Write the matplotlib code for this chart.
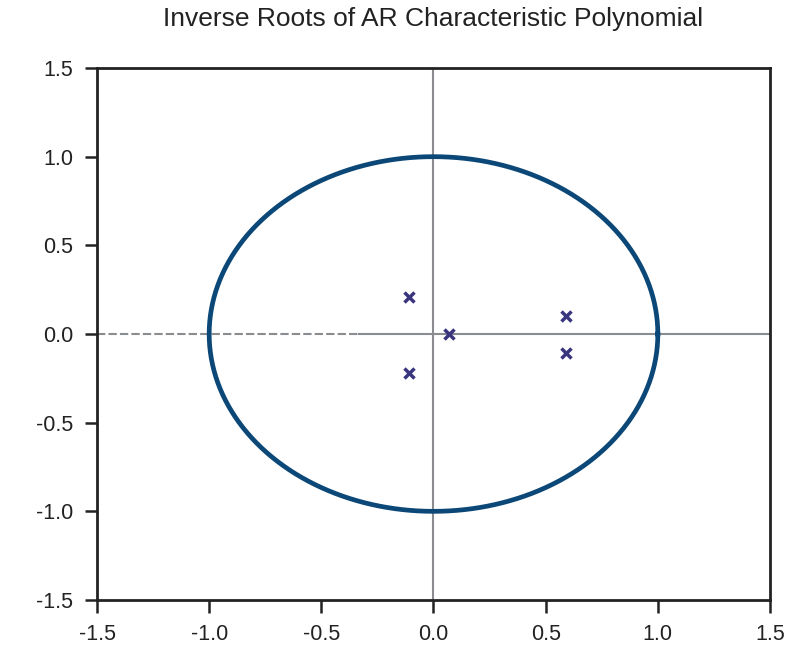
import numpy as np
import matplotlib
matplotlib.use("Agg")
from matplotlib import pyplot as plt

root_re = [-0.11, -0.11, 0.07, 0.59, 0.59]
root_im = [0.21, -0.22, 0.0, 0.10, -0.105]

ticks = [-1.5, -1.0, -0.5, 0.0, 0.5, 1.0, 1.5]
tick_labels = ["-1.5", "-1.0", "-0.5", "0.0", "0.5", "1.0", "1.5"]
title = "Inverse Roots of AR Characteristic Polynomial"

plt.rcParams['font.family'] = ['Liberation Sans', 'DejaVu Sans']

fig = plt.figure(figsize=(8.12, 6.5), dpi=100)
ax = fig.add_axes([97/812, 1-600/650, 673/812, 532/650])

# unit circle
t = np.linspace(0, 2*np.pi, 361)
ax.plot(np.cos(t), np.sin(t), color="#0b4777", lw=3.4, zorder=3)

# zero lines: dashed part left, solid for the rest
ax.plot([-1.5, -0.33], [0, 0], color="#8a8c8f", lw=1.5, ls=(0, (4, 1.5)), zorder=2)
ax.plot([-0.33, 1.5], [0, 0], color="#8a8c8f", lw=1.5, zorder=2)
ax.axvline(0, color="#8a8c8f", lw=1.5, zorder=2)

# roots
ax.plot(root_re, root_im, ls="none", marker="x", ms=7, mew=2.5,
        color="#3a357f", zorder=4)

ax.set_xlim(-1.5, 1.5)
ax.set_ylim(-1.5, 1.5)
ax.set_xticks(ticks)
ax.set_xticklabels(tick_labels)
ax.set_yticks(ticks)
ax.set_yticklabels(tick_labels)
ax.tick_params(direction="out", length=9, width=1.8, color="#222222",
               labelsize=15.5, labelcolor="#222222", pad=8)
for s in ax.spines.values():
    s.set_linewidth(2)
    s.set_color("#222222")

fig.text(433.5/812, 1-19/650, title, ha="center", va="center",
         fontsize=19, color="#222222")

fig.savefig("out.png", dpi=100)
